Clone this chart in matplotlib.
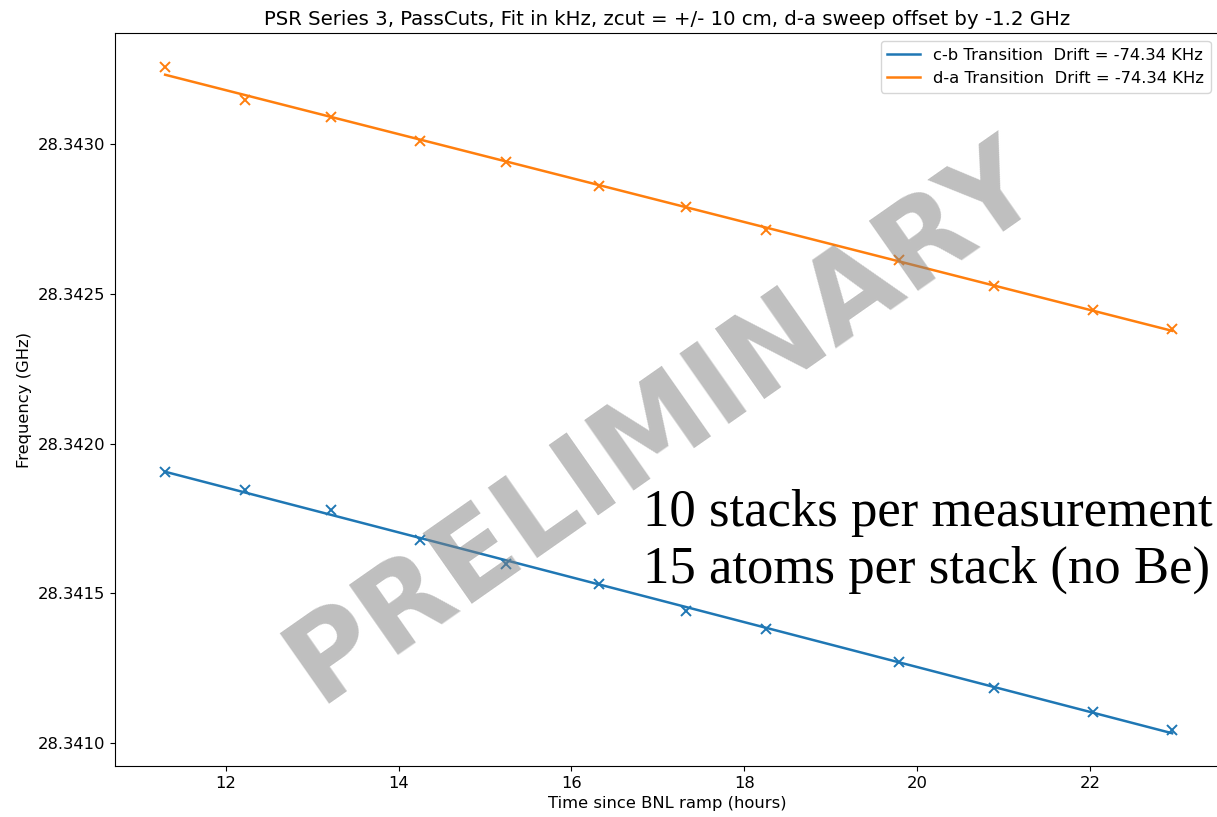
import numpy as np
import matplotlib.pyplot as plt
from matplotlib.ticker import MultipleLocator, FormatStrFormatter

# Werte
hours = [11.30, 12.22, 13.22, 14.25, 15.24, 16.32, 17.32, 18.25, 19.79, 20.89, 22.03, 22.95]
freq_cb = [28.341905, 28.341845, 28.341778, 28.341678, 28.341598, 28.341531,
           28.341441, 28.341381, 28.341270, 28.341184, 28.341104, 28.341043]
freq_da = [28.343257, 28.343147, 28.343090, 28.343010, 28.342940, 28.342860,
           28.342790, 28.342713, 28.342613, 28.342526, 28.342446, 28.342382]
names = ['c-b Transition', 'd-a Transition']
drift = [-74.34, -74.34]
colors = ['#1f77b4', '#ff7f0e']

fig = plt.figure(figsize=(12.17, 8.17), dpi=100)
ax = fig.add_axes((0.0945, 0.0624, 0.907, 0.8972))

x = np.array(hours)
for y, name, d, c in zip([freq_cb, freq_da], names, drift, colors):
    y = np.array(y)
    p = np.polyfit(x, y, 1)
    ax.plot(x, np.polyval(p, x), color=c, lw=1.8,
            label=name + '  Drift = ' + str(d) + ' KHz')
    ax.plot(x, y, 'x', color=c, ms=7, mew=1.4)

ax.set_xlim(10.72, 23.49)
ax.set_ylim(28.340923, 28.343371)
ax.xaxis.set_major_locator(MultipleLocator(2))
ax.yaxis.set_major_locator(MultipleLocator(0.0005))
ax.yaxis.set_major_formatter(FormatStrFormatter('%.4f'))
ax.tick_params(labelsize=11.8)
ax.set_xlabel('Time since BNL ramp (hours)', fontsize=11.8)
ax.set_ylabel('Frequency (GHz)', fontsize=11.8)
ax.set_title('PSR Series 3, PassCuts, Fit in kHz, zcut = +/- 10 cm, d-a sweep offset by -1.2 GHz',
             fontsize=14.2)
ax.legend(loc='upper right', fontsize=11.8)

# Wasserzeichen
fig.text(0.5446, 0.4826, 'PRELIMINARY', fontsize=84, fontweight='bold', color='#808080',
         alpha=0.5, rotation=35, ha='center', va='center')
# Textfeld von der Folie
fig.text(0.528, 0.402, '10 stacks per measurement\n15 atoms per stack (no Be)',
         fontsize=38, family='Liberation Serif', color='black', ha='left', va='top',
         linespacing=1.25)

fig.savefig('out.png', dpi=100)
